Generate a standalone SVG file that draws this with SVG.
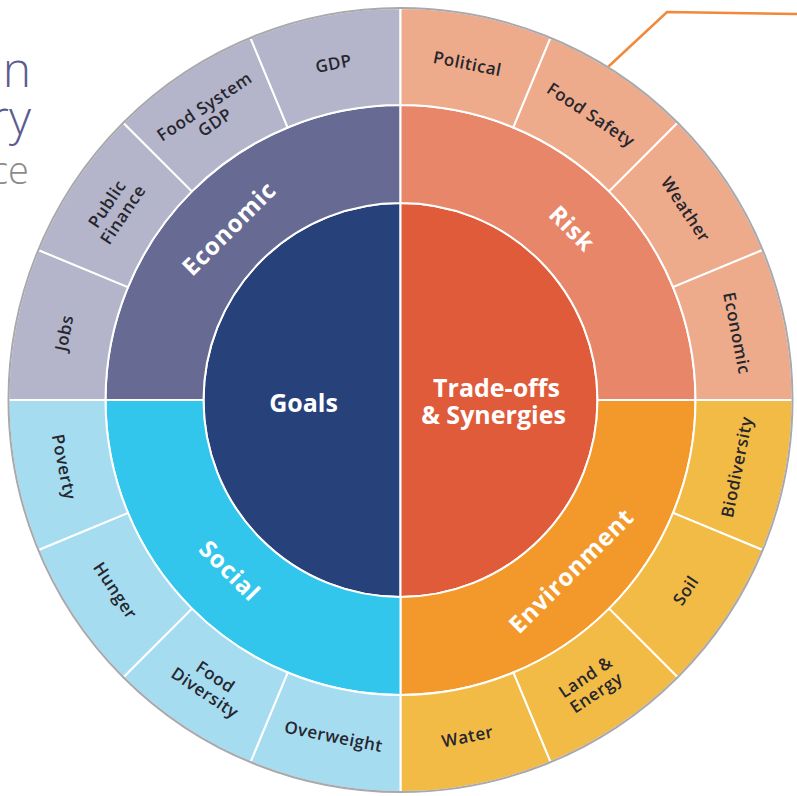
<svg xmlns="http://www.w3.org/2000/svg" width="797" height="796" viewBox="0 0 797 796">
  <style>
    .seg { stroke: #ffffff; stroke-width: 2; stroke-linejoin: round; }
    .lbl { font-family: "Open Sans", "Liberation Sans", sans-serif; font-weight: 600; font-size: 17px; fill: #26262e; text-anchor: middle; letter-spacing: 0.5px; }
    .mid { font-family: "Open Sans", "Liberation Sans", sans-serif; font-weight: 700; font-size: 24px; fill: #ffffff; text-anchor: middle; letter-spacing: 0.8px; }
    .core { font-family: "Open Sans", "Liberation Sans", sans-serif; font-weight: 700; font-size: 25px; fill: #ffffff; text-anchor: middle; }
    .title { font-family: "Open Sans", "Liberation Sans", sans-serif; font-weight: 300; text-anchor: end; }
    .eco-o { fill: #b4b4ca; } .eco-m { fill: #676b93; }
    .risk-o { fill: #eeab8b; } .risk-m { fill: #e8866a; }
    .env-o { fill: #f2bb46; } .env-m { fill: #f3982a; }
    .soc-o { fill: #a6dcf0; } .soc-m { fill: #33c6ec; }
  </style>

  <!-- heading fragments along the left edge -->
  <text class="title" x="31" y="87" font-size="48" fill="#5c5c90">n</text>
  <text class="title" x="31" y="135" font-size="48" fill="#5c5c90">ry</text>
  <text class="title" x="29" y="184" font-size="38" fill="#8c8c8c">ce</text>

  <!-- callout line -->
  <g id="connectors">
    <polyline points="608,67 667,12 797,14" fill="none" stroke="#f0893a" stroke-width="2.5"/>
  </g>

  <g id="wheel" transform="translate(400.5,400)">
    <!-- centre halves -->
    <g id="goals">
      <path class="seg" d="M 0 -197 A 197 197 0 0 0 0 197 Z" fill="#27417a"/>
      <text class="core" x="-97" y="12">Goals</text>
    </g>
    <g id="tradeoffs">
      <path class="seg" d="M 0 -197 A 197 197 0 0 1 0 197 Z" fill="#e05b3a"/>
      <text class="core" x="96" y="-3">Trade-offs</text>
      <text class="core" x="93" y="24">&amp; Synergies</text>
    </g>

    <!-- middle ring -->
    <g id="economic">
      <path class="seg eco-m" d="M -295 0 A 295 295 0 0 1 0 -295 L 0 -197 A 197 197 0 0 0 -197 0 Z"/>
      <text class="mid" transform="translate(-171.1,-171.1) rotate(-45)" y="8">Economic</text>
    </g>
    <g id="risk">
      <path class="seg risk-m" d="M 0 -295 A 295 295 0 0 1 295 0 L 197 0 A 197 197 0 0 0 0 -197 Z"/>
      <text class="mid" transform="translate(171.1,-171.1) rotate(45)" y="8">Risk</text>
    </g>
    <g id="environment">
      <path class="seg env-m" d="M 295 0 A 295 295 0 0 1 0 295 L 0 197 A 197 197 0 0 0 197 0 Z"/>
      <text class="mid" transform="translate(171.1,171.1) rotate(-45)" y="8">Environment</text>
    </g>
    <g id="social">
      <path class="seg soc-m" d="M 0 295 A 295 295 0 0 1 -295 0 L -197 0 A 197 197 0 0 0 0 197 Z"/>
      <text class="mid" transform="translate(-171.1,171.1) rotate(45)" y="8">Social</text>
    </g>

    <!-- outer ring: economic -->
    <g id="jobs">
      <path class="seg eco-o" d="M -392 0 A 392 392 0 0 1 -362.16 -150.01 L -272.54 -112.89 A 295 295 0 0 0 -295 0 Z"/>
      <text class="lbl" transform="translate(-336.41,-66.92) rotate(-78.75)" y="6">Jobs</text>
    </g>
    <g id="public-finance">
      <path class="seg eco-o" d="M -362.16 -150.01 A 392 392 0 0 1 -277.19 -277.19 L -208.6 -208.6 A 295 295 0 0 0 -272.54 -112.89 Z"/>
      <text class="lbl" transform="translate(-285.19,-190.56) rotate(-56.25)"><tspan x="0" y="-4">Public</tspan><tspan x="0" y="15">Finance</tspan></text>
    </g>
    <g id="food-system-gdp">
      <path class="seg eco-o" d="M -277.19 -277.19 A 392 392 0 0 1 -150.01 -362.16 L -112.89 -272.54 A 295 295 0 0 0 -208.6 -208.6 Z"/>
      <text class="lbl" transform="translate(-190.56,-285.19) rotate(-33.75)"><tspan x="0" y="-4">Food System</tspan><tspan x="0" y="15">GDP</tspan></text>
    </g>
    <g id="gdp">
      <path class="seg eco-o" d="M -150.01 -362.16 A 392 392 0 0 1 0 -392 L 0 -295 A 295 295 0 0 0 -112.89 -272.54 Z"/>
      <text class="lbl" transform="translate(-66.92,-336.41) rotate(-11.25)" y="6">GDP</text>
    </g>

    <!-- outer ring: risk -->
    <g id="political">
      <path class="seg risk-o" d="M 0 -392 A 392 392 0 0 1 150.01 -362.16 L 112.89 -272.54 A 295 295 0 0 0 0 -295 Z"/>
      <text class="lbl" transform="translate(66.92,-336.41) rotate(11.25)" y="6">Political</text>
    </g>
    <g id="food-safety">
      <path class="seg risk-o" d="M 150.01 -362.16 A 392 392 0 0 1 277.19 -277.19 L 208.6 -208.6 A 295 295 0 0 0 112.89 -272.54 Z"/>
      <text class="lbl" transform="translate(190.56,-285.19) rotate(33.75)" y="6">Food Safety</text>
    </g>
    <g id="weather">
      <path class="seg risk-o" d="M 277.19 -277.19 A 392 392 0 0 1 362.16 -150.01 L 272.54 -112.89 A 295 295 0 0 0 208.6 -208.6 Z"/>
      <text class="lbl" transform="translate(285.19,-190.56) rotate(56.25)" y="6">Weather</text>
    </g>
    <g id="economic-risk">
      <path class="seg risk-o" d="M 362.16 -150.01 A 392 392 0 0 1 392 0 L 295 0 A 295 295 0 0 0 272.54 -112.89 Z"/>
      <text class="lbl" transform="translate(336.41,-66.92) rotate(78.75)" y="6">Economic</text>
    </g>

    <!-- outer ring: environment -->
    <g id="biodiversity">
      <path class="seg env-o" d="M 392 0 A 392 392 0 0 1 362.16 150.01 L 272.54 112.89 A 295 295 0 0 0 295 0 Z"/>
      <text class="lbl" transform="translate(336.41,66.92) rotate(-78.75)" y="6">Biodiversity</text>
    </g>
    <g id="soil">
      <path class="seg env-o" d="M 362.16 150.01 A 392 392 0 0 1 277.19 277.19 L 208.6 208.6 A 295 295 0 0 0 272.54 112.89 Z"/>
      <text class="lbl" transform="translate(285.19,190.56) rotate(-56.25)" y="6">Soil</text>
    </g>
    <g id="land-energy">
      <path class="seg env-o" d="M 277.19 277.19 A 392 392 0 0 1 150.01 362.16 L 112.89 272.54 A 295 295 0 0 0 208.6 208.6 Z"/>
      <text class="lbl" transform="translate(190.56,285.19) rotate(-33.75)"><tspan x="0" y="-4">Land &amp;</tspan><tspan x="0" y="15">Energy</tspan></text>
    </g>
    <g id="water">
      <path class="seg env-o" d="M 150.01 362.16 A 392 392 0 0 1 0 392 L 0 295 A 295 295 0 0 0 112.89 272.54 Z"/>
      <text class="lbl" transform="translate(66.92,336.41) rotate(-11.25)" y="6">Water</text>
    </g>

    <!-- outer ring: social -->
    <g id="overweight">
      <path class="seg soc-o" d="M 0 392 A 392 392 0 0 1 -150.01 362.16 L -112.89 272.54 A 295 295 0 0 0 0 295 Z"/>
      <text class="lbl" transform="translate(-66.92,336.41) rotate(11.25)" y="6">Overweight</text>
    </g>
    <g id="food-diversity">
      <path class="seg soc-o" d="M -150.01 362.16 A 392 392 0 0 1 -277.19 277.19 L -208.6 208.6 A 295 295 0 0 0 -112.89 272.54 Z"/>
      <text class="lbl" transform="translate(-190.56,285.19) rotate(33.75)"><tspan x="0" y="-4">Food</tspan><tspan x="0" y="15">Diversity</tspan></text>
    </g>
    <g id="hunger">
      <path class="seg soc-o" d="M -277.19 277.19 A 392 392 0 0 1 -362.16 150.01 L -272.54 112.89 A 295 295 0 0 0 -208.6 208.6 Z"/>
      <text class="lbl" transform="translate(-285.19,190.56) rotate(56.25)" y="6">Hunger</text>
    </g>
    <g id="poverty">
      <path class="seg soc-o" d="M -362.16 150.01 A 392 392 0 0 1 -392 0 L -295 0 A 295 295 0 0 0 -272.54 112.89 Z"/>
      <text class="lbl" transform="translate(-336.41,66.92) rotate(78.75)" y="6">Poverty</text>
    </g>

    <!-- rim -->
    <circle r="392" fill="none" stroke="#a9a9ad" stroke-width="2"/>
  </g>
</svg>
